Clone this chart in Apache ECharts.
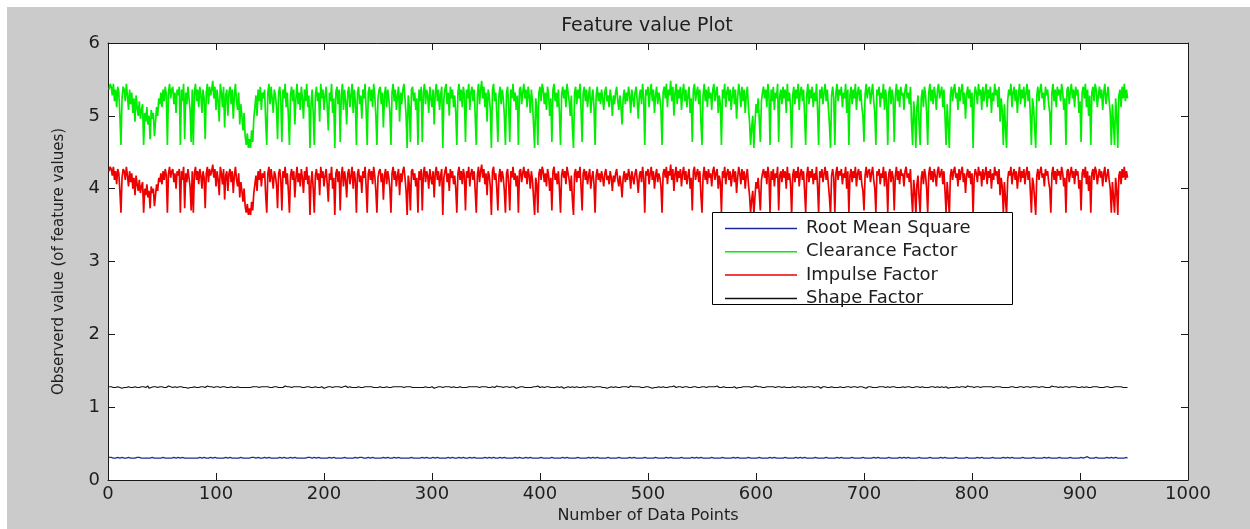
<!DOCTYPE html>
<html>
<head>
<meta charset="utf-8">
<title>Feature value Plot</title>
<script src="https://cdn.jsdelivr.net/npm/echarts@6/dist/echarts.min.js"></script>
<style>
  html, body { margin: 0; padding: 0; background: #ffffff; }
  /* grey figure panel with a thin white margin on the top and left */
  #chart {
    width: 1250px; height: 529px;
    background:
      linear-gradient(#ffffff, #ffffff) 0 0 / 100% 7px no-repeat,
      linear-gradient(#ffffff, #ffffff) 0 0 / 7px 100% no-repeat,
      #cbcbcb;
  }
</style>
</head>
<body>
<div id="chart"></div>
<script>
// ---- data -------------------------------------------------------------
const seriesNames = ['Root Mean Square', 'Clearance Factor', 'Impulse Factor', 'Shape Factor'];
const xTickValues = [0, 100, 200, 300, 400, 500, 600, 700, 800, 900, 1000];
const yTickValues = [0, 1, 2, 3, 4, 5, 6];

// Clearance factor, samples 1..944
const clearanceFactor = [
5.36,5.44,5.40,5.28,5.44,5.20,5.36,5.12,5.40,5.32,5.00,4.60,5.24,5.40,5.36,5.20,
5.44,5.28,5.08,5.36,5.16,5.32,5.04,5.24,4.92,5.28,5.12,5.00,5.20,4.96,5.08,5.16,
4.60,5.04,4.92,5.12,4.88,5.00,4.68,5.08,4.96,5.04,4.72,4.92,5.12,5.00,5.24,5.16,
5.32,5.12,5.36,5.20,5.40,5.28,4.60,5.32,5.44,5.24,5.36,5.40,5.16,5.32,5.04,5.36,
5.28,5.40,4.60,5.36,5.20,5.44,4.68,5.32,5.16,5.40,5.24,5.08,4.64,5.36,4.60,5.32,
5.44,5.20,5.36,5.12,5.40,5.28,5.04,5.36,5.24,4.68,5.32,5.44,5.16,5.40,5.28,5.36,
5.48,5.24,5.40,5.08,5.36,5.20,4.92,5.44,5.32,5.12,5.40,4.84,5.28,5.36,5.00,5.32,
5.40,5.16,5.36,4.96,5.28,5.44,5.20,5.08,5.32,4.88,5.16,5.00,4.80,5.04,4.72,4.60,
4.76,4.56,4.68,4.56,4.80,4.64,4.96,5.12,5.28,5.00,5.36,5.20,5.40,5.08,5.32,5.24,
5.36,4.92,4.60,5.32,5.44,5.16,5.40,5.24,5.04,5.36,5.28,5.12,4.68,5.32,5.40,5.20,
4.64,5.36,5.24,5.44,5.12,5.32,5.00,4.60,5.28,5.40,5.20,5.36,4.88,5.24,5.44,5.16,
5.32,5.08,5.40,5.24,4.96,5.36,5.20,5.44,5.12,5.28,4.56,5.16,5.36,5.04,4.60,5.28,
5.40,5.20,5.32,4.92,5.44,5.24,5.36,5.08,5.28,5.40,5.12,4.80,5.32,5.20,5.44,5.04,
5.24,4.56,5.32,5.40,5.16,5.36,4.64,5.28,5.44,5.08,5.36,5.20,4.88,5.32,5.40,5.12,
5.28,5.44,5.04,5.36,5.20,4.60,5.32,5.40,5.16,5.28,4.96,5.36,5.24,5.44,5.08,4.60,
5.32,5.40,5.20,5.36,5.12,5.44,5.28,5.00,4.60,5.24,5.36,5.40,5.16,5.32,4.84,5.28,
5.40,5.12,5.36,5.24,5.04,4.60,5.32,5.44,5.20,5.36,5.08,5.28,5.40,4.92,5.32,5.16,
5.36,5.44,5.24,5.00,4.56,5.28,5.12,4.64,5.36,5.40,5.20,5.32,5.08,5.24,4.60,5.36,
5.20,5.40,4.64,5.32,5.44,5.16,5.36,5.28,5.04,5.40,5.24,5.12,5.36,4.88,5.32,5.44,
5.20,5.36,5.08,5.28,5.40,4.56,5.24,5.36,5.44,5.16,5.32,5.00,5.40,5.24,5.36,5.12,
5.28,5.04,4.60,5.32,5.44,5.20,5.36,5.12,5.40,5.28,4.64,5.36,5.24,5.44,5.08,5.32,
5.40,5.20,5.36,5.00,4.60,5.28,5.44,5.16,5.36,5.48,5.24,5.40,5.12,5.32,4.92,5.36,
5.28,5.08,4.56,5.36,5.44,5.20,5.32,5.04,4.64,5.28,5.40,5.16,5.36,5.24,5.00,4.60,
5.32,5.40,5.12,4.64,5.36,5.24,5.44,5.20,5.32,5.08,5.28,4.60,5.36,5.40,5.16,5.32,
5.44,5.24,5.36,5.12,5.40,5.28,5.04,5.36,5.20,4.88,4.56,5.24,5.12,4.60,5.32,5.40,
5.20,5.44,5.36,5.16,5.32,5.08,5.40,5.28,5.00,5.24,4.64,5.36,5.44,5.20,5.32,5.12,
5.36,5.04,4.60,5.28,5.40,5.24,5.36,5.12,5.44,5.32,5.20,5.00,5.28,4.84,4.56,5.32,
5.40,5.16,5.36,5.24,5.44,5.08,4.64,5.32,5.40,5.20,5.36,5.12,5.28,5.40,5.04,5.24,
5.36,5.12,4.60,5.28,5.40,5.20,5.32,5.16,5.36,5.24,5.08,5.32,5.40,5.20,5.28,5.12,
5.36,5.24,5.00,5.28,5.16,5.32,5.40,5.20,5.08,5.28,5.12,4.88,5.24,5.36,5.16,5.32,
5.20,5.40,5.28,5.04,5.36,5.24,5.12,5.32,5.40,5.20,4.96,5.28,5.36,5.16,5.44,5.24,
4.60,5.36,5.28,5.40,5.12,5.32,5.44,5.20,5.36,5.04,5.28,5.40,5.16,5.32,5.24,5.08,
4.60,5.32,5.40,5.24,5.44,5.12,5.36,5.28,5.48,5.20,5.40,5.00,5.32,5.44,5.16,5.36,
5.24,5.40,5.08,5.32,5.44,5.20,5.36,5.12,5.28,5.40,5.04,5.24,4.64,5.36,5.44,5.20,
5.32,5.40,5.16,5.36,4.92,4.60,5.28,5.44,5.20,5.36,5.12,5.40,5.24,5.32,5.08,5.36,
5.44,5.20,5.32,5.40,5.04,5.28,5.16,4.60,5.36,5.24,5.44,5.12,5.32,5.40,5.20,5.36,
5.08,5.28,5.40,5.16,5.36,4.96,5.24,5.44,5.32,5.12,5.40,5.20,5.36,5.04,5.28,5.40,
5.12,4.92,4.60,4.84,5.00,4.56,4.88,5.16,5.04,5.24,4.96,4.64,5.20,5.32,5.40,5.24,
5.36,5.12,5.44,5.28,4.60,5.36,5.20,5.40,5.08,5.32,5.24,5.44,4.64,5.28,5.36,5.16,
5.40,5.24,5.36,5.04,5.44,5.20,5.32,5.12,4.56,5.28,5.40,5.16,5.36,5.24,5.44,5.08,
5.32,5.40,5.20,5.36,5.00,4.60,5.28,5.44,5.16,5.36,5.24,5.40,5.12,5.32,5.20,5.44,
5.08,4.60,5.36,5.24,5.40,5.16,5.32,5.44,5.20,5.36,5.12,4.88,4.56,5.28,5.40,5.24,
4.60,5.32,5.44,5.20,5.36,5.28,5.40,5.12,5.32,5.24,5.44,5.04,5.36,4.60,5.28,5.40,
5.16,5.36,5.24,5.44,5.08,5.32,5.40,5.20,5.36,5.12,5.00,4.64,5.28,5.44,5.24,5.36,
5.40,5.16,5.32,5.44,5.20,5.04,4.60,5.36,5.28,5.40,5.12,5.32,5.24,5.44,5.08,5.36,
5.20,4.60,5.32,5.40,5.16,5.36,5.24,4.64,5.28,5.44,5.20,5.36,5.12,5.40,5.28,5.32,
5.08,5.36,5.44,5.24,5.32,5.16,5.40,4.92,4.60,5.20,5.00,4.56,5.12,5.28,4.88,4.60,
5.24,5.36,5.12,5.40,5.28,5.04,4.60,5.32,5.44,5.20,5.36,5.16,5.40,5.28,5.08,5.36,
5.44,5.24,5.32,5.40,5.12,5.36,5.00,4.60,5.16,4.88,4.56,5.28,5.40,5.20,5.36,5.44,
5.24,5.32,5.08,5.40,5.20,5.36,5.44,5.16,5.32,4.96,5.28,5.40,5.24,5.36,5.12,5.32,
4.56,5.24,5.40,5.32,5.16,5.44,5.28,5.36,5.08,5.40,5.20,5.32,5.44,5.12,5.36,5.24,
5.40,5.04,5.32,5.20,5.44,5.28,5.36,5.12,5.40,4.92,5.24,5.08,4.60,5.16,4.84,4.56,
5.20,5.36,5.28,5.44,5.12,5.32,5.40,5.20,5.36,5.04,5.28,5.44,5.16,5.36,5.24,5.40,
5.12,5.32,5.44,5.20,5.36,5.00,4.60,5.24,5.12,4.84,4.56,5.28,5.40,5.20,5.36,5.44,
5.24,5.32,5.08,5.40,5.28,5.36,5.16,5.04,4.60,5.32,5.44,5.20,5.36,5.12,5.40,5.28,
5.36,5.20,5.44,5.32,5.08,5.24,4.60,5.36,5.40,5.16,5.32,5.44,5.24,5.36,5.12,5.40,
5.28,5.36,5.04,5.20,4.64,5.32,5.40,5.24,5.44,5.12,5.36,5.00,5.28,4.60,5.32,5.40,
5.20,5.44,5.36,5.12,5.28,5.40,5.24,5.36,5.08,5.32,5.44,5.16,5.28,5.40,5.20,5.04,
4.60,5.16,4.88,4.60,5.24,5.00,4.56,5.28,5.36,5.12,5.40,5.24,5.44,5.20,5.36,5.24
];

// Impulse factor, samples 1..944
const impulseFactor = [
4.24,4.30,4.27,4.18,4.30,4.12,4.24,4.06,4.27,4.21,3.97,3.67,4.15,4.27,4.24,4.12,
4.30,4.18,4.03,4.24,4.09,4.21,4.00,4.15,3.91,4.18,4.06,3.97,4.12,3.94,4.03,4.09,
3.67,4.00,3.91,4.06,3.88,3.97,3.73,4.03,3.94,4.00,3.76,3.91,4.06,3.97,4.15,4.09,
4.21,4.06,4.24,4.12,4.27,4.18,3.67,4.21,4.30,4.15,4.24,4.27,4.09,4.21,4.00,4.24,
4.18,4.27,3.67,4.24,4.12,4.30,3.73,4.21,4.09,4.27,4.15,4.03,3.70,4.24,3.67,4.21,
4.30,4.12,4.24,4.06,4.27,4.18,4.00,4.24,4.15,3.73,4.21,4.30,4.09,4.27,4.18,4.24,
4.33,4.15,4.27,4.03,4.24,4.12,3.91,4.30,4.21,4.06,4.27,3.85,4.18,4.24,3.97,4.21,
4.27,4.09,4.24,3.94,4.18,4.30,4.12,4.03,4.21,3.88,4.09,3.97,3.82,4.00,3.76,3.67,
3.79,3.64,3.73,3.64,3.82,3.70,3.94,4.06,4.18,3.97,4.24,4.12,4.27,4.03,4.21,4.15,
4.24,3.91,3.67,4.21,4.30,4.09,4.27,4.15,4.00,4.24,4.18,4.06,3.73,4.21,4.27,4.12,
3.70,4.24,4.15,4.30,4.06,4.21,3.97,3.67,4.18,4.27,4.12,4.24,3.88,4.15,4.30,4.09,
4.21,4.03,4.27,4.15,3.94,4.24,4.12,4.30,4.06,4.18,3.64,4.09,4.24,4.00,3.67,4.18,
4.27,4.12,4.21,3.91,4.30,4.15,4.24,4.03,4.18,4.27,4.06,3.82,4.21,4.12,4.30,4.00,
4.15,3.64,4.21,4.27,4.09,4.24,3.70,4.18,4.30,4.03,4.24,4.12,3.88,4.21,4.27,4.06,
4.18,4.30,4.00,4.24,4.12,3.67,4.21,4.27,4.09,4.18,3.94,4.24,4.15,4.30,4.03,3.67,
4.21,4.27,4.12,4.24,4.06,4.30,4.18,3.97,3.67,4.15,4.24,4.27,4.09,4.21,3.85,4.18,
4.27,4.06,4.24,4.15,4.00,3.67,4.21,4.30,4.12,4.24,4.03,4.18,4.27,3.91,4.21,4.09,
4.24,4.30,4.15,3.97,3.64,4.18,4.06,3.70,4.24,4.27,4.12,4.21,4.03,4.15,3.67,4.24,
4.12,4.27,3.70,4.21,4.30,4.09,4.24,4.18,4.00,4.27,4.15,4.06,4.24,3.88,4.21,4.30,
4.12,4.24,4.03,4.18,4.27,3.64,4.15,4.24,4.30,4.09,4.21,3.97,4.27,4.15,4.24,4.06,
4.18,4.00,3.67,4.21,4.30,4.12,4.24,4.06,4.27,4.18,3.70,4.24,4.15,4.30,4.03,4.21,
4.27,4.12,4.24,3.97,3.67,4.18,4.30,4.09,4.24,4.33,4.15,4.27,4.06,4.21,3.91,4.24,
4.18,4.03,3.64,4.24,4.30,4.12,4.21,4.00,3.70,4.18,4.27,4.09,4.24,4.15,3.97,3.67,
4.21,4.27,4.06,3.70,4.24,4.15,4.30,4.12,4.21,4.03,4.18,3.67,4.24,4.27,4.09,4.21,
4.30,4.15,4.24,4.06,4.27,4.18,4.00,4.24,4.12,3.88,3.64,4.15,4.06,3.67,4.21,4.27,
4.12,4.30,4.24,4.09,4.21,4.03,4.27,4.18,3.97,4.15,3.70,4.24,4.30,4.12,4.21,4.06,
4.24,4.00,3.67,4.18,4.27,4.15,4.24,4.06,4.30,4.21,4.12,3.97,4.18,3.85,3.64,4.21,
4.27,4.09,4.24,4.15,4.30,4.03,3.70,4.21,4.27,4.12,4.24,4.06,4.18,4.27,4.00,4.15,
4.24,4.06,3.67,4.18,4.27,4.12,4.21,4.09,4.24,4.15,4.03,4.21,4.27,4.12,4.18,4.06,
4.24,4.15,3.97,4.18,4.09,4.21,4.27,4.12,4.03,4.18,4.06,3.88,4.15,4.24,4.09,4.21,
4.12,4.27,4.18,4.00,4.24,4.15,4.06,4.21,4.27,4.12,3.94,4.18,4.24,4.09,4.30,4.15,
3.67,4.24,4.18,4.27,4.06,4.21,4.30,4.12,4.24,4.00,4.18,4.27,4.09,4.21,4.15,4.03,
3.67,4.21,4.27,4.15,4.30,4.06,4.24,4.18,4.33,4.12,4.27,3.97,4.21,4.30,4.09,4.24,
4.15,4.27,4.03,4.21,4.30,4.12,4.24,4.06,4.18,4.27,4.00,4.15,3.70,4.24,4.30,4.12,
4.21,4.27,4.09,4.24,3.91,3.67,4.18,4.30,4.12,4.24,4.06,4.27,4.15,4.21,4.03,4.24,
4.30,4.12,4.21,4.27,4.00,4.18,4.09,3.67,4.24,4.15,4.30,4.06,4.21,4.27,4.12,4.24,
4.03,4.18,4.27,4.09,4.24,3.94,4.15,4.30,4.21,4.06,4.27,4.12,4.24,4.00,4.18,4.27,
4.06,3.91,3.67,3.85,3.97,3.64,3.88,4.09,4.00,4.15,3.94,3.70,4.12,4.21,4.27,4.15,
4.24,4.06,4.30,4.18,3.67,4.24,4.12,4.27,4.03,4.21,4.15,4.30,3.70,4.18,4.24,4.09,
4.27,4.15,4.24,4.00,4.30,4.12,4.21,4.06,3.64,4.18,4.27,4.09,4.24,4.15,4.30,4.03,
4.21,4.27,4.12,4.24,3.97,3.67,4.18,4.30,4.09,4.24,4.15,4.27,4.06,4.21,4.12,4.30,
4.03,3.67,4.24,4.15,4.27,4.09,4.21,4.30,4.12,4.24,4.06,3.88,3.64,4.18,4.27,4.15,
3.67,4.21,4.30,4.12,4.24,4.18,4.27,4.06,4.21,4.15,4.30,4.00,4.24,3.67,4.18,4.27,
4.09,4.24,4.15,4.30,4.03,4.21,4.27,4.12,4.24,4.06,3.97,3.70,4.18,4.30,4.15,4.24,
4.27,4.09,4.21,4.30,4.12,4.00,3.67,4.24,4.18,4.27,4.06,4.21,4.15,4.30,4.03,4.24,
4.12,3.67,4.21,4.27,4.09,4.24,4.15,3.70,4.18,4.30,4.12,4.24,4.06,4.27,4.18,4.21,
4.03,4.24,4.30,4.15,4.21,4.09,4.27,3.91,3.67,4.12,3.97,3.64,4.06,4.18,3.88,3.67,
4.15,4.24,4.06,4.27,4.18,4.00,3.67,4.21,4.30,4.12,4.24,4.09,4.27,4.18,4.03,4.24,
4.30,4.15,4.21,4.27,4.06,4.24,3.97,3.67,4.09,3.88,3.64,4.18,4.27,4.12,4.24,4.30,
4.15,4.21,4.03,4.27,4.12,4.24,4.30,4.09,4.21,3.94,4.18,4.27,4.15,4.24,4.06,4.21,
3.64,4.15,4.27,4.21,4.09,4.30,4.18,4.24,4.03,4.27,4.12,4.21,4.30,4.06,4.24,4.15,
4.27,4.00,4.21,4.12,4.30,4.18,4.24,4.06,4.27,3.91,4.15,4.03,3.67,4.09,3.85,3.64,
4.12,4.24,4.18,4.30,4.06,4.21,4.27,4.12,4.24,4.00,4.18,4.30,4.09,4.24,4.15,4.27,
4.06,4.21,4.30,4.12,4.24,3.97,3.67,4.15,4.06,3.85,3.64,4.18,4.27,4.12,4.24,4.30,
4.15,4.21,4.03,4.27,4.18,4.24,4.09,4.00,3.67,4.21,4.30,4.12,4.24,4.06,4.27,4.18,
4.24,4.12,4.30,4.21,4.03,4.15,3.67,4.24,4.27,4.09,4.21,4.30,4.15,4.24,4.06,4.27,
4.18,4.24,4.00,4.12,3.70,4.21,4.27,4.15,4.30,4.06,4.24,3.97,4.18,3.67,4.21,4.27,
4.12,4.30,4.24,4.06,4.18,4.27,4.15,4.24,4.03,4.21,4.30,4.09,4.18,4.27,4.12,4.00,
3.67,4.09,3.88,3.67,4.15,3.97,3.64,4.18,4.24,4.06,4.27,4.15,4.30,4.12,4.24,4.15
];

// Shape factor, samples 1..944
const shapeFactor = [
1.28,1.27,1.28,1.28,1.27,1.28,1.27,1.27,1.28,1.28,1.27,1.28,1.26,1.28,1.27,1.28,
1.27,1.28,1.28,1.27,1.27,1.28,1.27,1.28,1.28,1.27,1.27,1.28,1.27,1.27,1.28,1.27,
1.28,1.27,1.27,1.28,1.29,1.26,1.28,1.27,1.27,1.28,1.27,1.28,1.28,1.27,1.27,1.28,
1.27,1.28,1.27,1.27,1.28,1.27,1.28,1.29,1.27,1.28,1.27,1.27,1.28,1.28,1.27,1.27,
1.28,1.28,1.27,1.28,1.27,1.27,1.28,1.27,1.28,1.26,1.28,1.27,1.28,1.27,1.28,1.28,
1.27,1.27,1.28,1.27,1.28,1.28,1.27,1.28,1.27,1.27,1.28,1.29,1.27,1.28,1.27,1.28,
1.28,1.27,1.27,1.28,1.27,1.28,1.28,1.27,1.26,1.28,1.27,1.28,1.27,1.27,1.28,1.27,
1.27,1.28,1.28,1.27,1.28,1.27,1.27,1.28,1.28,1.27,1.29,1.27,1.28,1.27,1.28,1.27,
1.28,1.27,1.28,1.27,1.27,1.28,1.27,1.28,1.27,1.28,1.28,1.27,1.27,1.28,1.26,1.28,
1.27,1.28,1.27,1.28,1.28,1.27,1.28,1.27,1.27,1.28,1.27,1.28,1.28,1.27,1.28,1.27,
1.28,1.27,1.27,1.29,1.27,1.28,1.27,1.28,1.28,1.27,1.27,1.28,1.27,1.28,1.27,1.28,
1.27,1.28,1.28,1.27,1.28,1.27,1.26,1.28,1.27,1.28,1.28,1.27,1.28,1.27,1.27,1.28,
1.28,1.27,1.28,1.27,1.29,1.28,1.27,1.26,1.28,1.27,1.28,1.28,1.27,1.28,1.27,1.27,
1.27,1.28,1.27,1.28,1.27,1.28,1.28,1.27,1.27,1.28,1.27,1.29,1.28,1.27,1.28,1.28,
1.28,1.27,1.28,1.27,1.28,1.27,1.27,1.28,1.28,1.27,1.28,1.27,1.26,1.28,1.27,1.28,
1.27,1.28,1.27,1.28,1.28,1.27,1.29,1.27,1.28,1.27,1.27,1.28,1.28,1.27,1.28,1.27,
1.28,1.28,1.27,1.27,1.28,1.27,1.28,1.28,1.27,1.28,1.26,1.28,1.27,1.28,1.27,1.28,
1.27,1.27,1.28,1.28,1.27,1.28,1.27,1.28,1.29,1.27,1.28,1.27,1.28,1.27,1.28,1.27,
1.28,1.27,1.28,1.27,1.27,1.28,1.28,1.27,1.28,1.27,1.28,1.28,1.27,1.26,1.28,1.27,
1.27,1.28,1.27,1.28,1.28,1.27,1.27,1.28,1.27,1.28,1.27,1.28,1.28,1.27,1.29,1.28,
1.28,1.27,1.28,1.27,1.28,1.28,1.27,1.27,1.28,1.27,1.28,1.27,1.27,1.28,1.27,1.28,
1.27,1.28,1.26,1.28,1.27,1.28,1.28,1.27,1.28,1.28,1.27,1.28,1.27,1.28,1.28,1.27,
1.28,1.27,1.28,1.28,1.27,1.27,1.28,1.29,1.27,1.28,1.27,1.28,1.28,1.27,1.27,1.28,
1.27,1.28,1.27,1.27,1.28,1.28,1.27,1.28,1.27,1.26,1.28,1.27,1.28,1.28,1.27,1.28,
1.28,1.27,1.28,1.27,1.28,1.27,1.28,1.27,1.28,1.28,1.27,1.28,1.27,1.29,1.28,1.27,
1.27,1.28,1.28,1.27,1.27,1.28,1.27,1.28,1.28,1.27,1.28,1.27,1.28,1.27,1.28,1.28,
1.28,1.27,1.27,1.28,1.28,1.26,1.28,1.27,1.27,1.28,1.28,1.27,1.28,1.28,1.27,1.27,
1.27,1.28,1.28,1.27,1.28,1.27,1.28,1.28,1.27,1.27,1.29,1.28,1.27,1.28,1.27,1.28,
1.28,1.27,1.27,1.28,1.27,1.28,1.27,1.28,1.28,1.27,1.28,1.27,1.28,1.26,1.28,1.27,
1.27,1.28,1.28,1.27,1.28,1.28,1.27,1.27,1.28,1.27,1.28,1.28,1.27,1.28,1.27,1.28,
1.28,1.27,1.28,1.29,1.27,1.28,1.27,1.28,1.27,1.28,1.27,1.28,1.28,1.27,1.28,1.27,
1.27,1.28,1.27,1.28,1.28,1.27,1.28,1.26,1.28,1.27,1.28,1.27,1.27,1.28,1.28,1.27,
1.28,1.28,1.27,1.27,1.28,1.27,1.28,1.28,1.27,1.28,1.27,1.29,1.28,1.27,1.27,1.28,
1.27,1.28,1.28,1.27,1.27,1.28,1.27,1.28,1.28,1.27,1.28,1.27,1.28,1.28,1.26,1.28,
1.28,1.27,1.28,1.27,1.28,1.28,1.27,1.28,1.27,1.27,1.28,1.28,1.27,1.28,1.27,1.28,
1.27,1.28,1.27,1.29,1.28,1.27,1.28,1.27,1.28,1.28,1.27,1.27,1.28,1.27,1.28,1.27,
1.28,1.27,1.28,1.28,1.27,1.26,1.28,1.27,1.28,1.27,1.28,1.28,1.27,1.28,1.27,1.28,
1.27,1.28,1.27,1.27,1.28,1.28,1.27,1.29,1.27,1.28,1.27,1.28,1.28,1.27,1.28,1.27,
1.28,1.28,1.27,1.28,1.27,1.28,1.27,1.28,1.28,1.27,1.26,1.28,1.27,1.28,1.28,1.27,
1.27,1.28,1.28,1.27,1.28,1.27,1.28,1.27,1.27,1.28,1.28,1.27,1.29,1.28,1.27,1.28,
1.28,1.27,1.27,1.28,1.28,1.27,1.28,1.28,1.27,1.28,1.27,1.28,1.27,1.27,1.28,1.28,
1.27,1.28,1.28,1.26,1.27,1.28,1.27,1.28,1.28,1.27,1.28,1.27,1.28,1.28,1.27,1.27,
1.28,1.27,1.28,1.27,1.28,1.28,1.29,1.27,1.28,1.27,1.27,1.28,1.27,1.28,1.28,1.27,
1.27,1.28,1.27,1.28,1.27,1.27,1.28,1.28,1.27,1.28,1.28,1.27,1.28,1.26,1.27,1.28,
1.28,1.28,1.27,1.27,1.28,1.27,1.28,1.27,1.28,1.28,1.27,1.28,1.27,1.28,1.29,1.27,
1.27,1.28,1.28,1.27,1.28,1.28,1.27,1.28,1.27,1.27,1.28,1.27,1.28,1.27,1.28,1.28,
1.28,1.27,1.26,1.28,1.27,1.28,1.28,1.27,1.28,1.27,1.28,1.28,1.27,1.28,1.27,1.27,
1.27,1.28,1.28,1.27,1.29,1.27,1.28,1.27,1.27,1.28,1.27,1.28,1.28,1.27,1.28,1.28,
1.28,1.27,1.27,1.28,1.28,1.27,1.28,1.28,1.27,1.26,1.28,1.27,1.28,1.27,1.28,1.27,
1.27,1.28,1.28,1.27,1.27,1.28,1.27,1.28,1.28,1.27,1.28,1.29,1.27,1.28,1.27,1.28,
1.28,1.27,1.28,1.28,1.27,1.28,1.27,1.27,1.28,1.28,1.27,1.28,1.27,1.28,1.26,1.28,
1.27,1.28,1.27,1.27,1.28,1.28,1.27,1.28,1.27,1.28,1.28,1.27,1.28,1.27,1.28,1.27,
1.28,1.27,1.29,1.28,1.27,1.28,1.28,1.27,1.28,1.27,1.27,1.28,1.27,1.28,1.28,1.27,
1.27,1.28,1.27,1.28,1.28,1.27,1.26,1.28,1.27,1.28,1.27,1.28,1.28,1.27,1.27,1.28,
1.28,1.28,1.27,1.27,1.28,1.27,1.28,1.27,1.28,1.29,1.27,1.28,1.27,1.28,1.28,1.27,
1.27,1.28,1.28,1.27,1.28,1.28,1.27,1.28,1.27,1.27,1.28,1.28,1.26,1.28,1.27,1.28,
1.28,1.27,1.28,1.27,1.27,1.28,1.28,1.27,1.28,1.28,1.27,1.27,1.28,1.27,1.29,1.28,
1.27,1.28,1.27,1.28,1.28,1.27,1.28,1.27,1.28,1.27,1.28,1.28,1.27,1.28,1.27,1.27,
1.28,1.27,1.28,1.28,1.26,1.28,1.27,1.28,1.27,1.28,1.28,1.27,1.28,1.27,1.28,1.27
];

// Root mean square, samples 1..944
const rootMeanSquare = [
0.31,0.30,0.31,0.30,0.30,0.31,0.30,0.30,0.31,0.30,0.30,0.30,0.31,0.30,0.30,0.31,
0.30,0.30,0.31,0.31,0.30,0.30,0.30,0.31,0.30,0.30,0.31,0.32,0.31,0.30,0.30,0.31,
0.30,0.31,0.30,0.30,0.30,0.31,0.30,0.30,0.31,0.30,0.30,0.31,0.30,0.30,0.30,0.31,
0.30,0.30,0.31,0.30,0.30,0.31,0.30,0.30,0.30,0.31,0.30,0.30,0.31,0.30,0.30,0.30,
0.31,0.30,0.30,0.30,0.31,0.30,0.30,0.31,0.30,0.30,0.30,0.31,0.30,0.31,0.30,0.30,
0.30,0.31,0.30,0.30,0.31,0.30,0.30,0.30,0.31,0.30,0.30,0.31,0.30,0.30,0.31,0.30,
0.30,0.30,0.31,0.30,0.30,0.31,0.30,0.30,0.30,0.31,0.30,0.30,0.31,0.30,0.30,0.30,
0.31,0.30,0.30,0.31,0.30,0.30,0.30,0.31,0.30,0.30,0.31,0.30,0.30,0.31,0.30,0.30,
0.30,0.31,0.30,0.30,0.31,0.30,0.31,0.30,0.30,0.30,0.31,0.30,0.30,0.31,0.30,0.30,
0.31,0.30,0.30,0.30,0.31,0.30,0.30,0.31,0.30,0.30,0.30,0.31,0.30,0.30,0.31,0.30,
0.30,0.30,0.31,0.30,0.30,0.31,0.30,0.30,0.31,0.30,0.30,0.30,0.31,0.30,0.30,0.31,
0.30,0.31,0.30,0.30,0.30,0.31,0.30,0.30,0.31,0.30,0.31,0.30,0.30,0.30,0.31,0.30,
0.30,0.30,0.31,0.30,0.30,0.31,0.30,0.30,0.30,0.31,0.30,0.30,0.31,0.30,0.30,0.30,
0.31,0.30,0.30,0.31,0.30,0.30,0.30,0.31,0.30,0.30,0.31,0.30,0.30,0.31,0.30,0.30,
0.30,0.31,0.30,0.30,0.31,0.30,0.30,0.30,0.31,0.32,0.31,0.30,0.30,0.31,0.30,0.30,
0.31,0.30,0.30,0.30,0.31,0.30,0.30,0.31,0.30,0.30,0.30,0.31,0.30,0.30,0.31,0.30,
0.30,0.30,0.31,0.30,0.30,0.31,0.30,0.30,0.31,0.30,0.30,0.30,0.31,0.30,0.30,0.31,
0.30,0.31,0.30,0.30,0.30,0.31,0.30,0.30,0.31,0.30,0.30,0.31,0.30,0.30,0.30,0.31,
0.30,0.30,0.31,0.30,0.30,0.30,0.31,0.30,0.30,0.31,0.30,0.30,0.31,0.30,0.30,0.30,
0.31,0.30,0.30,0.31,0.30,0.30,0.30,0.31,0.30,0.30,0.31,0.30,0.30,0.30,0.31,0.30,
0.30,0.31,0.30,0.30,0.31,0.30,0.30,0.30,0.31,0.30,0.30,0.31,0.30,0.30,0.31,0.30,
0.30,0.30,0.31,0.30,0.30,0.31,0.30,0.30,0.30,0.31,0.30,0.30,0.31,0.30,0.30,0.30,
0.31,0.30,0.30,0.30,0.31,0.30,0.30,0.31,0.30,0.30,0.31,0.30,0.30,0.30,0.31,0.30,
0.30,0.31,0.30,0.30,0.30,0.31,0.30,0.30,0.31,0.30,0.30,0.30,0.31,0.30,0.30,0.31,
0.30,0.30,0.31,0.30,0.30,0.30,0.31,0.30,0.30,0.31,0.30,0.30,0.30,0.31,0.30,0.30,
0.31,0.30,0.30,0.31,0.30,0.30,0.30,0.31,0.30,0.30,0.31,0.30,0.30,0.31,0.30,0.30,
0.30,0.31,0.30,0.30,0.31,0.30,0.30,0.30,0.31,0.30,0.30,0.31,0.30,0.30,0.30,0.31,
0.30,0.30,0.31,0.30,0.30,0.31,0.30,0.30,0.30,0.31,0.30,0.30,0.31,0.30,0.30,0.30,
0.31,0.30,0.30,0.30,0.31,0.30,0.30,0.31,0.30,0.30,0.30,0.31,0.30,0.30,0.31,0.30,
0.30,0.31,0.30,0.30,0.30,0.31,0.30,0.30,0.31,0.30,0.30,0.31,0.30,0.30,0.30,0.31,
0.30,0.30,0.31,0.30,0.30,0.30,0.31,0.30,0.30,0.31,0.30,0.30,0.30,0.31,0.30,0.30,
0.31,0.30,0.30,0.31,0.30,0.30,0.30,0.31,0.30,0.30,0.31,0.30,0.30,0.31,0.30,0.30,
0.30,0.31,0.30,0.30,0.31,0.30,0.30,0.30,0.31,0.30,0.30,0.31,0.30,0.30,0.30,0.31,
0.30,0.30,0.31,0.30,0.30,0.31,0.30,0.30,0.30,0.31,0.30,0.30,0.31,0.30,0.30,0.30,
0.31,0.30,0.30,0.30,0.31,0.30,0.30,0.31,0.30,0.30,0.30,0.31,0.30,0.30,0.31,0.30,
0.30,0.31,0.30,0.30,0.30,0.31,0.30,0.30,0.31,0.30,0.30,0.31,0.30,0.30,0.30,0.31,
0.30,0.30,0.31,0.30,0.30,0.30,0.31,0.30,0.30,0.31,0.30,0.30,0.30,0.31,0.30,0.30,
0.31,0.30,0.30,0.31,0.30,0.30,0.30,0.31,0.30,0.30,0.31,0.30,0.30,0.31,0.30,0.30,
0.30,0.31,0.30,0.30,0.31,0.30,0.30,0.30,0.31,0.30,0.30,0.31,0.30,0.30,0.30,0.31,
0.30,0.30,0.31,0.30,0.30,0.31,0.30,0.30,0.30,0.31,0.30,0.30,0.31,0.30,0.30,0.30,
0.31,0.30,0.30,0.30,0.31,0.30,0.30,0.31,0.30,0.30,0.30,0.31,0.30,0.30,0.31,0.30,
0.30,0.31,0.30,0.30,0.30,0.31,0.30,0.30,0.31,0.30,0.30,0.31,0.30,0.30,0.30,0.31,
0.30,0.30,0.31,0.30,0.30,0.30,0.31,0.30,0.30,0.31,0.30,0.30,0.30,0.31,0.30,0.30,
0.31,0.30,0.30,0.31,0.30,0.30,0.30,0.31,0.30,0.30,0.31,0.30,0.30,0.31,0.30,0.30,
0.30,0.31,0.30,0.30,0.31,0.30,0.30,0.30,0.31,0.30,0.30,0.31,0.30,0.30,0.30,0.31,
0.30,0.30,0.31,0.30,0.30,0.31,0.30,0.30,0.30,0.31,0.30,0.30,0.31,0.30,0.30,0.30,
0.31,0.30,0.30,0.30,0.31,0.30,0.30,0.31,0.30,0.30,0.30,0.31,0.30,0.30,0.31,0.30,
0.30,0.31,0.30,0.30,0.30,0.31,0.30,0.30,0.31,0.30,0.30,0.31,0.30,0.30,0.30,0.31,
0.30,0.30,0.31,0.30,0.30,0.30,0.31,0.30,0.30,0.31,0.30,0.30,0.30,0.31,0.30,0.30,
0.31,0.30,0.30,0.31,0.30,0.30,0.30,0.31,0.30,0.30,0.31,0.30,0.30,0.31,0.30,0.30,
0.30,0.31,0.30,0.30,0.31,0.30,0.30,0.30,0.31,0.30,0.30,0.31,0.30,0.30,0.30,0.31,
0.30,0.30,0.31,0.30,0.30,0.31,0.30,0.30,0.30,0.31,0.30,0.30,0.31,0.30,0.30,0.30,
0.31,0.30,0.30,0.30,0.31,0.30,0.30,0.31,0.30,0.30,0.30,0.31,0.30,0.30,0.31,0.30,
0.30,0.31,0.30,0.30,0.30,0.31,0.30,0.30,0.31,0.30,0.30,0.31,0.30,0.30,0.30,0.31,
0.30,0.30,0.31,0.30,0.30,0.30,0.31,0.30,0.30,0.31,0.30,0.30,0.30,0.31,0.30,0.30,
0.31,0.30,0.30,0.31,0.30,0.30,0.30,0.31,0.30,0.30,0.31,0.30,0.30,0.31,0.30,0.30,
0.30,0.31,0.30,0.30,0.31,0.30,0.30,0.30,0.31,0.31,0.32,0.31,0.30,0.30,0.30,0.31,
0.30,0.30,0.31,0.30,0.30,0.31,0.30,0.30,0.30,0.31,0.30,0.30,0.31,0.30,0.30,0.30,
0.31,0.30,0.30,0.30,0.31,0.30,0.30,0.31,0.30,0.30,0.30,0.31,0.30,0.30,0.31,0.30
];

// ---- chart ------------------------------------------------------------
const FONT = 'DejaVu Sans';
const TEXT = '#1e1e1e';
const AXIS = '#1a1a1a';
const colors = {
  'Root Mean Square': '#1d2b9a',
  'Clearance Factor': '#00ee00',
  'Impulse Factor': '#ee0000',
  'Shape Factor': '#111111'
};
const widths = {
  'Root Mean Square': 1.2,
  'Clearance Factor': 1.7,
  'Impulse Factor': 1.7,
  'Shape Factor': 1.2
};
const valuesByName = {
  'Root Mean Square': rootMeanSquare,
  'Clearance Factor': clearanceFactor,
  'Impulse Factor': impulseFactor,
  'Shape Factor': shapeFactor
};

// sample number (1-based) paired with each value
const toPoints = vals => vals.map((v, i) => [i + 1, v]);

const xMin = xTickValues[0], xMax = xTickValues[xTickValues.length - 1];
const xStep = xTickValues[1] - xTickValues[0];
const yMin = yTickValues[0], yMax = yTickValues[yTickValues.length - 1];
const yStep = yTickValues[1] - yTickValues[0];

const boxLine = { show: true, onZero: false, lineStyle: { color: AXIS, width: 1 } };
const inTick = { show: true, inside: true, length: 7, lineStyle: { color: AXIS, width: 1 } };
const tickFont = { fontFamily: FONT, fontSize: 18, color: TEXT, formatter: v => String(v) };

const chart = echarts.init(document.getElementById('chart'), null, { renderer: 'canvas' });

chart.setOption({
  animation: false,
  backgroundColor: 'transparent',
  grid: {
    left: 108, top: 43, width: 1080, height: 440,
    show: true, backgroundColor: '#ffffff', borderWidth: 0,
    containLabel: false
  },
  graphic: [
    {
      type: 'text', x: 647, y: 26, z: 10,
      style: {
        text: 'Feature value Plot', fill: TEXT,
        font: '19px "DejaVu Sans"', textAlign: 'center', textVerticalAlign: 'middle'
      }
    },
    {
      // legend frame
      type: 'rect', z: 5, silent: true,
      shape: { x: 712.5, y: 212.5, width: 300, height: 92 },
      style: { fill: '#ffffff', stroke: '#000000', lineWidth: 1 }
    }
  ],
  legend: {
    data: seriesNames,
    orient: 'vertical',
    left: 725, top: 217,
    padding: 0,
    itemGap: 0.3,
    itemWidth: 72, itemHeight: 1.5,
    icon: 'rect',
    selectedMode: false,
    z: 8,
    textStyle: { fontFamily: FONT, fontSize: 18, color: TEXT, lineHeight: 23, padding: [0, 0, 0, 4] }
  },
  xAxis: [
    {
      type: 'value', position: 'bottom', min: xMin, max: xMax, interval: xStep,
      axisLine: boxLine, axisTick: inTick,
      axisLabel: Object.assign({ margin: 5 }, tickFont),
      splitLine: { show: false },
      name: 'Number of Data Points', nameLocation: 'middle', nameGap: 28,
      nameTextStyle: { fontFamily: FONT, fontSize: 16, color: TEXT }
    },
    {
      type: 'value', position: 'top', min: xMin, max: xMax, interval: xStep,
      axisLine: boxLine, axisTick: inTick,
      axisLabel: { show: false }, splitLine: { show: false }
    }
  ],
  yAxis: [
    {
      type: 'value', position: 'left', min: yMin, max: yMax, interval: yStep,
      axisLine: boxLine, axisTick: inTick,
      axisLabel: Object.assign({ margin: 8 }, tickFont),
      splitLine: { show: false },
      name: 'Observerd value (of feature values)', nameLocation: 'middle', nameGap: 41,
      nameTextStyle: { fontFamily: FONT, fontSize: 15, color: TEXT }
    },
    {
      type: 'value', position: 'right', min: yMin, max: yMax, interval: yStep,
      axisLine: boxLine, axisTick: inTick,
      axisLabel: { show: false }, splitLine: { show: false }
    }
  ],
  series: seriesNames.map(name => ({
    name: name,
    type: 'line',
    xAxisIndex: 0, yAxisIndex: 0,
    data: toPoints(valuesByName[name]),
    showSymbol: false,
    symbol: 'none',
    color: colors[name],
    lineStyle: { color: colors[name], width: widths[name] },
    emphasis: { disabled: true },
    silent: true,
    z: 2
  }))
});
</script>
</body>
</html>
